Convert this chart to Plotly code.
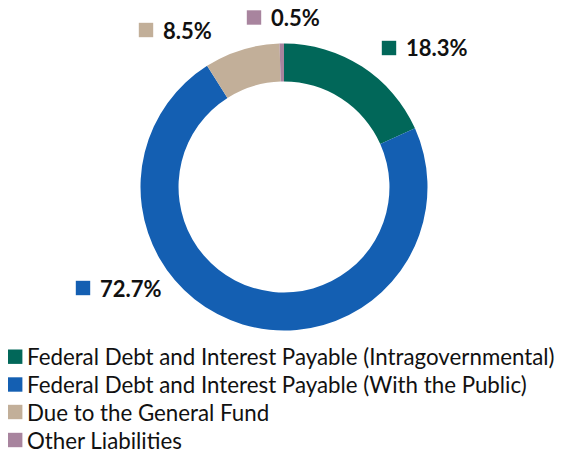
import plotly.graph_objects as go

labels = [
    "Federal Debt and Interest Payable (Intragovernmental)",
    "Federal Debt and Interest Payable (With the Public)",
    "Due to the General Fund",
    "Other Liabilities",
]
values = [18.3, 72.7, 8.5, 0.5]
colors = ["#016759", "#145FB2", "#C2AF99", "#A8849E"]
value_text = ["18.3%", "72.7%", "8.5%", "0.5%"]

# the page places the figure 8px from the window's top-left corner
OFF = 8
W, H = 563 - OFF, 452 - OFF
# data-label anchor positions in window pixels (square centre x, centre y)
label_pos = [(389, 48), (83, 288), (146, 30), (254, 17.5)]
# legend rows (centre y, window pixels)
legend_rows = [356.7, 384.5, 412, 440]
SQ = 7.2  # half size of the colour squares


def px(x):
    return (x - OFF) / W


def py(y):
    return 1 - (y - OFF) / H


fig = go.Figure()
fig.add_trace(go.Pie(
    labels=labels,
    values=values,
    marker=dict(colors=colors, line=dict(width=0)),
    hole=0.735,
    sort=False,
    direction="clockwise",
    rotation=0,
    textinfo="none",
    hoverinfo="label+percent",
    domain=dict(x=[px(140.5), px(427.5)], y=[py(330.5), py(43.5)]),
))


def square(cx, cy, col):
    return dict(
        type="rect", xref="paper", yref="paper",
        x0=px(cx - SQ), x1=px(cx + SQ),
        y0=py(cy + SQ), y1=py(cy - SQ),
        fillcolor=col, line=dict(width=0),
    )


shapes = []
annotations = []
for (cx, cy), txt, col in zip(label_pos, value_text, colors):
    shapes.append(square(cx, cy, col))
    annotations.append(dict(
        text="<b>" + txt + "</b>", xref="paper", yref="paper",
        x=px(cx + 15), y=py(cy), xanchor="left", yanchor="middle",
        showarrow=False, font=dict(family="Lato", size=22, color="#111111"),
    ))

# legend built from squares and texts
for cy, lab, col in zip(legend_rows, labels, colors):
    shapes.append(square(15.2, cy, col))
    annotations.append(dict(
        text=lab, xref="paper", yref="paper",
        x=px(24.7), y=py(cy), xanchor="left", yanchor="middle",
        showarrow=False, font=dict(family="Lato", size=22.3, color="#111111"),
    ))

fig.update_layout(
    width=W, height=H,
    margin=dict(l=0, r=0, t=0, b=0),
    paper_bgcolor="white",
    plot_bgcolor="white",
    showlegend=False,
    shapes=shapes,
    annotations=annotations,
)

fig.write_html("out.html")
